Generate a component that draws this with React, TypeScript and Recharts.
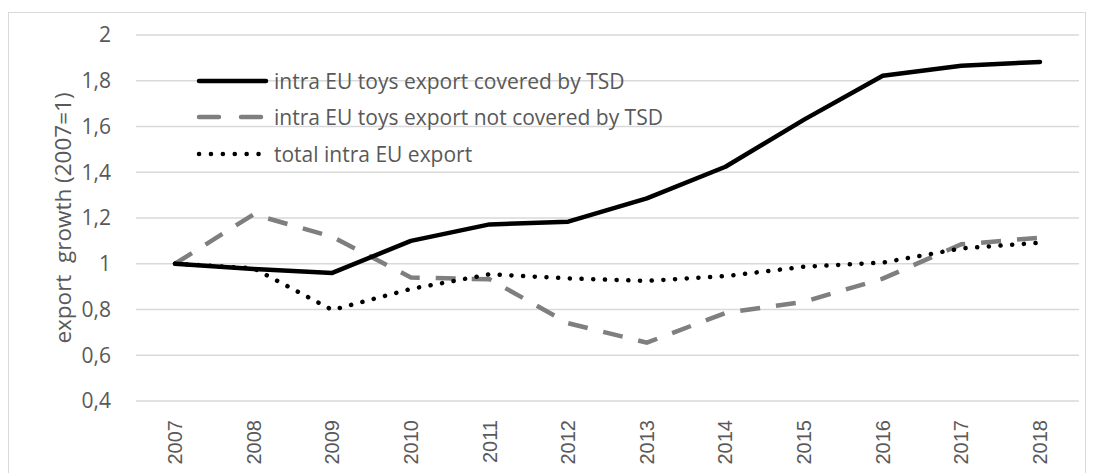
import { LineChart, Line, XAxis, YAxis, CartesianGrid } from 'recharts';

const years = ['2007', '2008', '2009', '2010', '2011', '2012', '2013', '2014', '2015', '2016', '2017', '2018'];
const covered = [1.0, 0.977, 0.96, 1.1, 1.172, 1.184, 1.286, 1.424, 1.63, 1.822, 1.866, 1.882];
const notCovered = [1.0, 1.216, 1.118, 0.94, 0.932, 0.74, 0.655, 0.785, 0.834, 0.935, 1.085, 1.114];
const totalExport = [1.0, 0.98, 0.798, 0.89, 0.954, 0.936, 0.925, 0.946, 0.987, 1.005, 1.067, 1.092];
const yTicks = [0.4, 0.6, 0.8, 1, 1.2, 1.4, 1.6, 1.8, 2];

const data = years.map((year, i) => ({
  year,
  covered: covered[i],
  notCovered: notCovered[i],
  total: totalExport[i],
}));

const TEXT = '#595959';
const SANS = '"Open Sans", sans-serif';

// Excel-like legend: sample line + label, stacked in the upper left of the plot
const legendRows = [
  { label: 'intra EU toys export covered by TSD', stroke: '#000', dash: undefined },
  { label: 'intra EU toys export not covered by TSD', stroke: '#7f7f7f', dash: '20 22' },
  { label: 'total intra EU export', stroke: '#000', dash: '0.1 11.8' },
];

const ChartLegend = () => (
  <div style={{ position: 'absolute', left: 187, top: 51, fontFamily: SANS, fontSize: 21, color: TEXT }}>
    {legendRows.map((r, i) => (
      <div key={r.label} style={{ display: 'flex', alignItems: 'center', height: i === 0 ? 34 : 37 }}>
        <svg width={78} height={12}>
          <line x1={3} y1={6} x2={70} y2={6} stroke={r.stroke} strokeWidth={4.5} strokeDasharray={r.dash} strokeLinecap="round" />
        </svg>
        <span style={{ whiteSpace: 'nowrap' }}>{r.label}</span>
      </div>
    ))}
  </div>
);

const fmt = (v: number) => String(Number(v.toFixed(1))).replace('.', ',');

export default function App() {
  return (
    <div style={{ position: 'relative', width: 1078, height: 470, marginTop: 4, border: '1px solid #d9d9d9', boxSizing: 'border-box', background: '#fff' }}>
      <LineChart width={1076} height={460} data={data} margin={{ top: 22, right: 6, left: 0, bottom: 0 }}>
        <CartesianGrid vertical={false} stroke="#d9d9d9" strokeWidth={1.3} />
        <XAxis
          dataKey="year"
          axisLine={false}
          tickLine={false}
          height={72}
          interval={0}
          padding={{ left: 39, right: 39 }}
          tick={({ x, y, payload }: any) => (
            <text x={x} y={y} transform={`rotate(-90 ${x} ${y})`} dx={-11} dy={7} textAnchor="end"
              fill={TEXT} fontSize={20} fontFamily='"Liberation Sans", Arial, sans-serif'>
              {payload.value}
            </text>
          )}
        />
        <YAxis
          width={127}
          domain={[0.4, 2]}
          ticks={yTicks}
          axisLine={false}
          tickLine={false}
          tickFormatter={fmt}
          tickMargin={19}
          tick={{ fill: TEXT, fontSize: 21, fontFamily: SANS }}
          label={{
            content: ({ viewBox }: any) => {
              const cx = 53;
              const cy = viewBox.y + viewBox.height / 2;
              return (
                <text x={cx} y={cy} transform={`rotate(-90 ${cx} ${cy})`} textAnchor="middle" dominantBaseline="central"
                  fill={TEXT} fontSize={22.5} fontFamily={SANS} style={{ whiteSpace: 'pre' }}>
                  {'export\u00a0 growth (2007=1)'}
                </text>
              );
            },
          }}
        />
        <Line type="linear" dataKey="notCovered" stroke="#7f7f7f" strokeWidth={4.5} strokeDasharray="20 16" dot={false} isAnimationActive={false} />
        <Line type="linear" dataKey="total" stroke="#000" strokeWidth={4.5} strokeDasharray="0.1 11.6" strokeLinecap="round" dot={false} isAnimationActive={false} />
        <Line type="linear" dataKey="covered" stroke="#000" strokeWidth={4.5} strokeLinecap="round" strokeLinejoin="round" dot={false} isAnimationActive={false} />
      </LineChart>
      <ChartLegend />
    </div>
  );
}
